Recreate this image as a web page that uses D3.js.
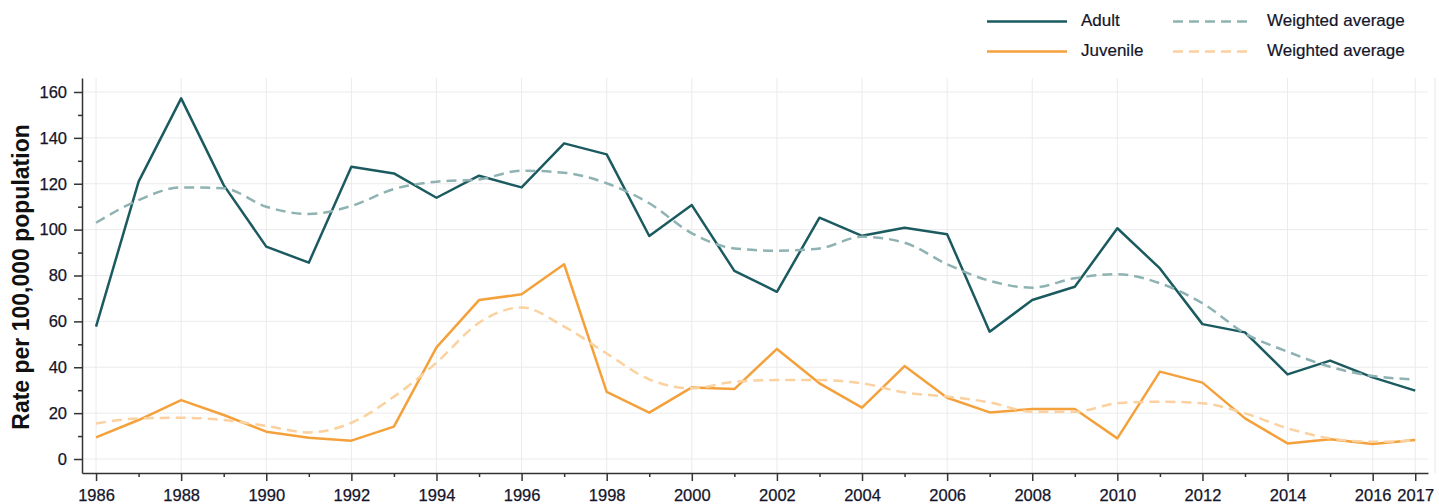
<!DOCTYPE html>
<html>

<head>
    <title>Rate per 100,000 population</title>
    <script src="https://d3js.org/d3.v7.min.js"></script>
    <style>
        body {
            margin: 0;
            background: #fff;
            font-family: "Liberation Sans", Arial, sans-serif;
        }

        .line {
            fill: none;
            stroke-width: 2.5;
            stroke-linejoin: round;
        }

        .grid line {
            stroke: #ebebeb;
            stroke-width: 1;
        }

        .axis text {
            font-size: 16.5px;
            fill: #14142a;
            stroke: #14142a;
            stroke-width: 0.25;
        }

        .axis path,
        .axis line {
            stroke: #333;
            stroke-width: 1.5;
        }

        .legend text {
            font-size: 17px;
            fill: #14142a;
            stroke: #14142a;
            stroke-width: 0.2;
            dominant-baseline: middle;
        }
    </style>
</head>

<body>
    <script>
        var w = 1439;
        var h = 504;

        // data
        var years = d3.range(1986, 2018);
        var adult = [57.7, 120.9, 157.2, 119.4, 92.6, 85.6, 127.4, 124.5, 113.9, 123.5,
            118.4, 137.6, 132.8, 97.2, 110.7, 82, 72.9, 105.2, 97.3, 100.8,
            98, 55.5, 69.3, 75.1, 100.6, 83.1, 58.8, 55.2, 36.9, 42.9, 35.6, 29.8];
        var adultAvg = [103, 112.9, 118.4, 118, 110, 106.8, 110.3, 117.7, 120.9, 121.9,
            125.7, 124.8, 120.2, 111.5, 98.4, 91.8, 90.8, 91.8, 96.9, 94.3,
            84.9, 77.7, 74.7, 78.8, 80.6, 76.6, 67.9, 54.8, 46.8, 40.2, 36.2, 34.7];
        var juvenile = [9.4, 17, 25.7, 19.2, 11.9, 9.3, 8, 14.1, 48.7, 69.3,
            71.8, 84.9, 29.3, 20.2, 31.2, 30.5, 48, 33, 22.4, 40.5,
            26.7, 20.3, 21.8, 21.8, 9, 38.1, 33.3, 17.7, 6.8, 8.6, 6.5, 8.3];
        var juvenileAvg = [15.5, 17.7, 18, 17, 14.4, 11.6, 15.8, 27.2, 42, 59.4,
            66.1, 57.7, 46, 34.7, 30.8, 33.7, 34.4, 34.4, 33, 29,
            27.2, 24.7, 20.6, 20.6, 24.3, 25, 24.3, 19.9, 13.4, 9, 7.5, 8];

        var xTicks = [1986, 1988, 1990, 1992, 1994, 1996, 1998, 2000, 2002, 2004, 2006,
            2008, 2010, 2012, 2014, 2016, 2017];
        var yTicks = [0, 20, 40, 60, 80, 100, 120, 140, 160];

        var series = [
            { name: "Adult", values: adult, color: "#1b5b60", dash: null, curve: d3.curveLinear },
            { name: "Weighted average", values: adultAvg, color: "#8fb2b3", dash: "10,6", curve: d3.curveMonotoneX },
            { name: "Juvenile", values: juvenile, color: "#f4a13c", dash: null, curve: d3.curveLinear },
            { name: "Weighted average", values: juvenileAvg, color: "#fbd19f", dash: "10,6", curve: d3.curveMonotoneX }
        ];

        var plotLeft = 82, plotRight = 1428, plotTop = 78, plotBottom = 473;

        var x = d3.scaleLinear().domain([1985.67, 2017.3]).range([plotLeft, plotRight]);
        var y = d3.scaleLinear().domain([-6.1, 166.1]).range([plotBottom, plotTop]);

        var svg = d3.select("body")
            .append("svg")
            .attr("width", w)
            .attr("height", h);

        // grid
        svg.append("g")
            .attr("class", "grid")
            .selectAll("line")
            .data(xTicks)
            .enter()
            .append("line")
            .attr("x1", function (d) { return x(d); })
            .attr("x2", function (d) { return x(d); })
            .attr("y1", plotTop)
            .attr("y2", plotBottom);

        svg.append("g")
            .attr("class", "grid")
            .selectAll("line")
            .data(yTicks)
            .enter()
            .append("line")
            .attr("x1", plotLeft)
            .attr("x2", plotRight)
            .attr("y1", function (d) { return y(d); })
            .attr("y2", function (d) { return y(d); });

        // faint frame on the right
        svg.append("line")
            .attr("x1", 1435).attr("x2", 1435)
            .attr("y1", plotTop).attr("y2", plotBottom)
            .attr("stroke", "#e6e6e6");

        // minor ticks
        var minorX = years.filter(function (d) { return xTicks.indexOf(d) < 0; });
        var minorY = d3.range(10, 170, 20);

        svg.append("g")
            .attr("class", "axis")
            .attr("transform", "translate(0," + plotBottom + ")")
            .call(d3.axisBottom(x).tickValues(minorX).tickSize(4).tickFormat(""))
            .call(function (g) { g.select(".domain").remove(); });

        svg.append("g")
            .attr("class", "axis")
            .attr("transform", "translate(" + plotLeft + ",0)")
            .call(d3.axisLeft(y).tickValues(minorY).tickSize(4).tickFormat(""))
            .call(function (g) { g.select(".domain").remove(); });

        // major axes
        svg.append("g")
            .attr("class", "axis")
            .attr("transform", "translate(0," + plotBottom + ")")
            .call(d3.axisBottom(x).tickValues(xTicks).tickSize(8).tickSizeOuter(0).tickPadding(8).tickFormat(d3.format("d")));

        svg.append("g")
            .attr("class", "axis")
            .attr("transform", "translate(" + plotLeft + ",0)")
            .call(d3.axisLeft(y).tickValues(yTicks).tickSize(8).tickSizeOuter(0).tickPadding(7));

        // y axis title
        svg.append("text")
            .attr("transform", "translate(29," + 277 + ") rotate(-90)")
            .attr("text-anchor", "middle")
            .style("font-size", "23px")
            .style("font-weight", "bold")
            .style("fill", "#111")
            .text("Rate per 100,000 population");

        // lines
        series.forEach(function (s) {
            var line = d3.line()
                .curve(s.curve)
                .x(function (d, i) { return x(years[i]); })
                .y(function (d) { return y(d); });

            svg.append("path")
                .datum(s.values)
                .attr("class", "line")
                .attr("stroke", s.color)
                .attr("stroke-dasharray", s.dash)
                .attr("d", line);
        });

        // legend
        var legendPos = [
            { x: 987, y: 21.5 },
            { x: 1173, y: 21.5 },
            { x: 987, y: 51.5 },
            { x: 1173, y: 51.5 }
        ];

        var legend = svg.append("g").attr("class", "legend");
        series.forEach(function (s, i) {
            var p = legendPos[i];
            legend.append("line")
                .attr("x1", p.x)
                .attr("x2", p.x + 80)
                .attr("y1", p.y)
                .attr("y2", p.y)
                .attr("stroke", s.color)
                .attr("stroke-width", 2.5)
                .attr("stroke-dasharray", s.dash);
            legend.append("text")
                .attr("x", p.x + 94)
                .attr("y", p.y)
                .text(s.name);
        });
    </script>
</body>

</html>
